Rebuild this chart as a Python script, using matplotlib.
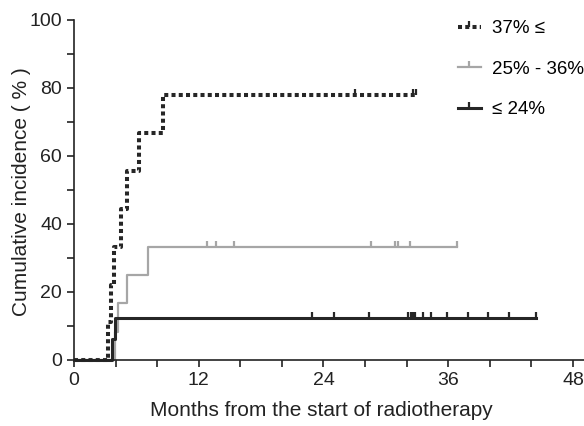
#!/usr/bin/env python3
import matplotlib
matplotlib.use("Agg")
import matplotlib.pyplot as plt
from matplotlib.lines import Line2D

plt.rcParams['font.family'] = ['Liberation Sans', 'DejaVu Sans']

# step times (months) and cumulative incidence (%)
high_t = [0, 3.24, 3.56, 3.85, 4.49, 5.07, 6.28, 8.53, 32.9]
high_y = [0, 11.1, 22.2, 33.3, 44.4, 55.6, 66.7, 77.8, 77.8]
high_cens = [27.0, 32.6, 32.9]

mid_t = [0, 3.94, 4.26, 5.13, 7.14, 36.8]
mid_y = [0, 8.3, 16.7, 25.0, 33.3, 33.3]
mid_cens = [12.8, 13.7, 15.4, 28.6, 30.9, 31.2, 32.3, 36.8]

low_t = [0, 3.65, 3.94, 44.4]
low_y = [0, 6.25, 12.5, 12.5]
low_cens = [22.9, 25.0, 28.4, 32.1, 32.4, 32.6, 32.8, 33.6, 34.3, 35.9,
            37.9, 39.8, 41.8, 44.4]

labels = ['37% ≤', '25% - 36%', '≤ 24%']


def level_at(ts, ys, t):
    v = ys[0]
    for ti, yi in zip(ts, ys):
        if ti <= t:
            v = yi
    return v


fig = plt.figure(figsize=(5.84, 4.26), dpi=100)
ax = fig.add_axes([74 / 584, 66 / 426, 510 / 584, 340 / 426])

dark = '#262626'
grey = '#a6a6a6'
dotted = dict(color=dark, lw=2.9, ls=(0, (1, 0.8)), dash_capstyle='butt')

series = [
    (high_t, high_y, high_cens, dotted),
    (mid_t, mid_y, mid_cens, dict(color=grey, lw=1.6)),
    (low_t, low_y, low_cens, dict(color=dark, lw=2.2)),
]

handles = []
for (ts, ys, cens, style), lab in zip(series, labels):
    ax.step(ts, ys, where='post', clip_on=False, **style)
    cy = [level_at(ts, ys, c) for c in cens]
    ax.plot(cens, cy, ls='none', marker=2, ms=4, mew=1.6,
            color=style['color'], clip_on=False)
    handles.append(Line2D([], [], marker=2, ms=4, mew=1.6, **style))

ax.set_xlim(0, 49.06)
ax.set_ylim(0, 100)
ax.set_xticks(range(0, 49, 4))
ax.set_xticklabels([str(x) if x % 12 == 0 else '' for x in range(0, 49, 4)])
ax.set_yticks(range(0, 101, 10))
ax.set_yticklabels([str(y) if y % 20 == 0 else '' for y in range(0, 101, 10)])
ax.tick_params(direction='out', length=5, width=1.2, labelsize=14,
               colors='#222222', pad=3.5)
for s in ['top', 'right']:
    ax.spines[s].set_visible(False)
for s in ['left', 'bottom']:
    ax.spines[s].set_linewidth(1.2)
    ax.spines[s].set_color('#222222')

fig.text(321 / 584, 1 - 410 / 426, 'Months from the start of radiotherapy',
         fontsize=15, color='#222222', ha='center', va='center')
fig.text(22 / 584, 1 - 192 / 426, 'Cumulative incidence ( % )',
         fontsize=15, color='#222222', ha='center', va='center',
         rotation=90)

fig.legend(handles, labels, loc='upper left',
           bbox_to_anchor=(458 / 584, 1 - 20 / 426), frameon=False,
           fontsize=13.5, handlelength=1.2, handletextpad=0.6,
           labelspacing=1.25, borderpad=0, borderaxespad=0)

fig.savefig('out.png', dpi=100)
